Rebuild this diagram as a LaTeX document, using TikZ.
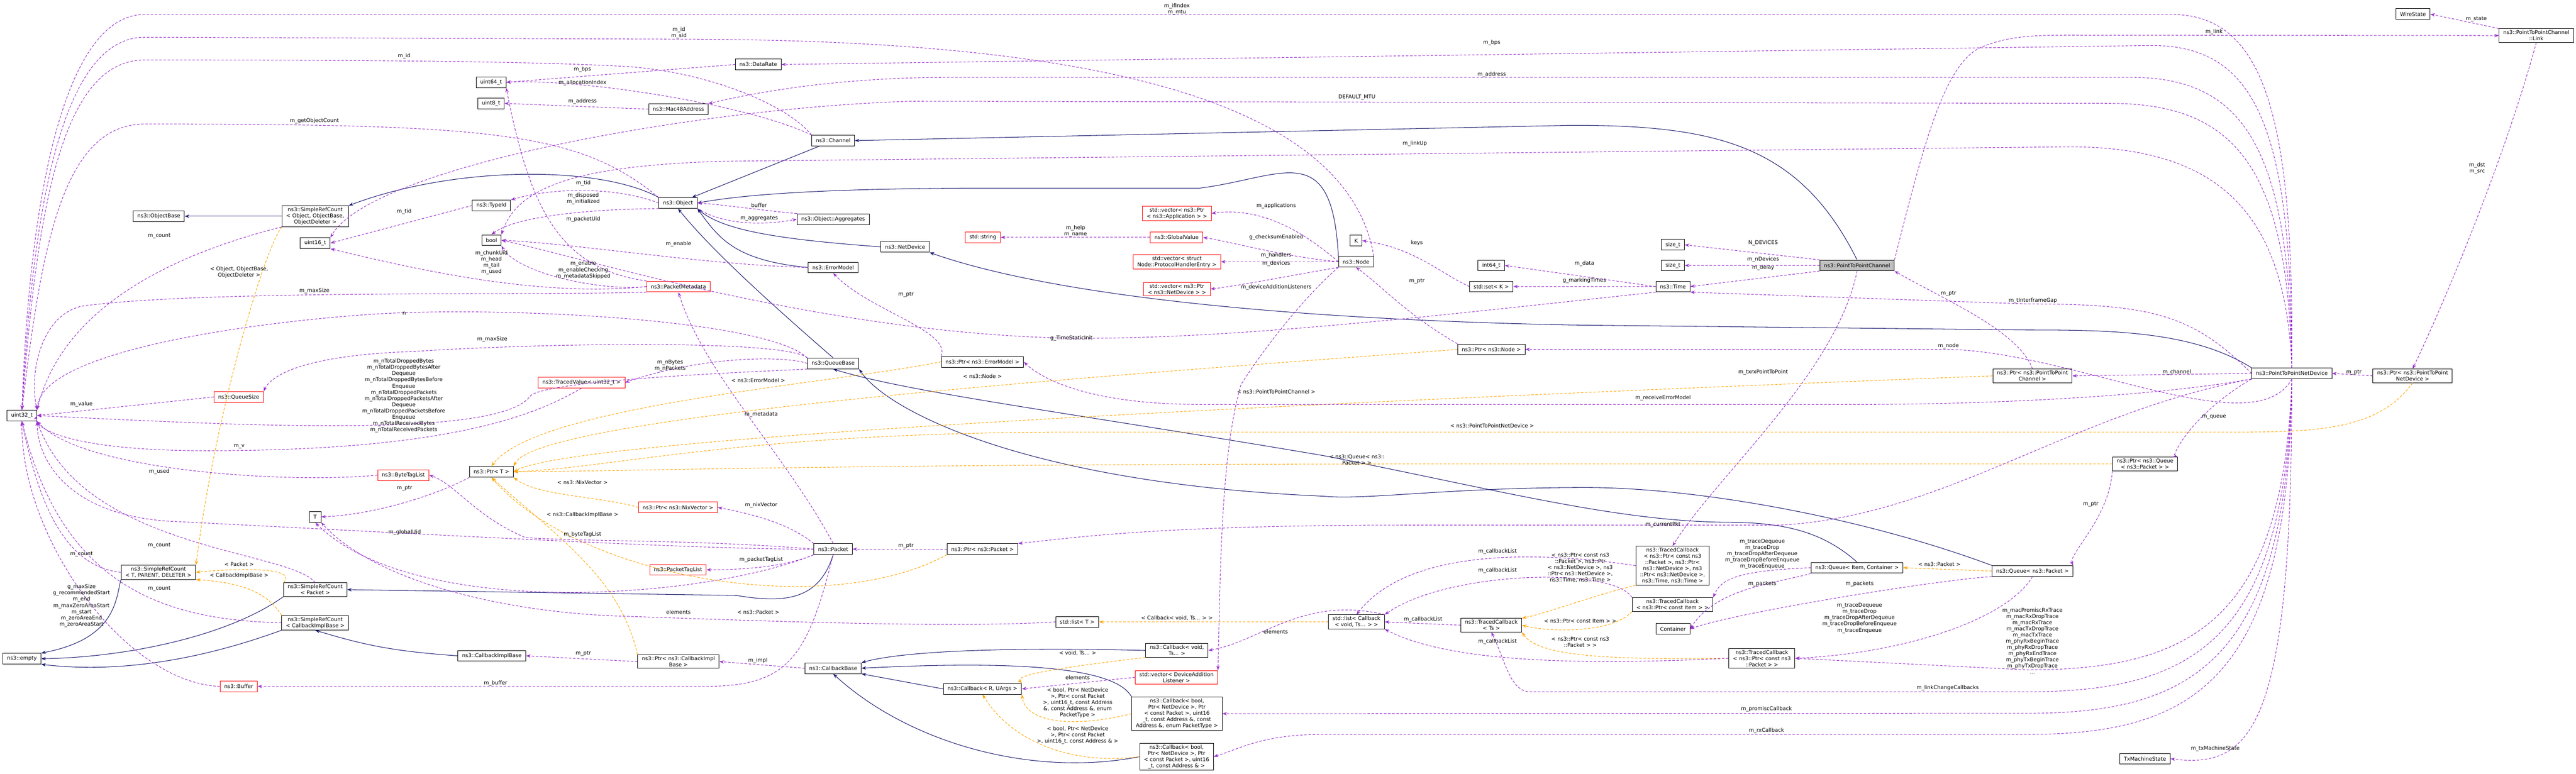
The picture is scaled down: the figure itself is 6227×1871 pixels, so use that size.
\documentclass[tikz,border=0pt]{standalone}
\usepackage{fontspec}
\setmainfont{DejaVu Sans}
\usetikzlibrary{arrows.meta}
\definecolor{usep}{HTML}{9A32CD}
\definecolor{navyc}{HTML}{191970}
\definecolor{orng}{HTML}{FFA500}
\begin{document}
\begin{tikzpicture}[x=1pt,y=-1pt,
  box/.style={draw=black,line width=1.2pt,fill=white,font=\fontsize{12.7}{15}\selectfont,align=center,inner xsep=10pt,inner ysep=4pt,minimum height=26pt},
  rbox/.style={box,draw=red},
  gbox/.style={box,fill=black!25},
  use/.style={draw=usep,line width=1.3pt,dash pattern=on 6pt off 4pt,-{Stealth[length=11pt,width=8pt]}},
  inh/.style={draw=navyc,line width=1.3pt,-{Stealth[length=11pt,width=8pt]}},
  tmpl/.style={draw=orng,line width=1.3pt,dash pattern=on 6pt off 4pt,-{Stealth[length=11pt,width=8pt]}},
  lab/.style={font=\fontsize{12.7}{15}\selectfont,align=center,inner sep=0pt}]
\path[use as bounding box,fill=white] (0,0) rectangle (6227,1871);
% nodes
\node[box] (u64) at (1187,199) {uint64\_t};
\node[box] (u8) at (1187,250) {uint8\_t};
\node[box] (mac) at (1640,264) {ns3::Mac48Address};
\node[box] (obase) at (384,523) {ns3::ObjectBase};
\node[box] (srcObj) at (762,523) {ns3::SimpleRefCount\\< Object, ObjectBase,\\ObjectDeleter >};
\node[box] (u16) at (762,588) {uint16\_t};
\node[box] (typeid) at (1188,497) {ns3::TypeId};
\node[box] (bool) at (1188,581) {bool};
\node[rbox] (pmeta) at (1640,693) {ns3::PacketMetadata};
\node[rbox] (tvu32) at (1406,925) {ns3::TracedValue< uint32\_t >};
\node[rbox] (qsize) at (577,960) {ns3::QueueSize};
\node[box] (u32) at (53,1005) {uint32\_t};
\node[rbox] (btl) at (975,1149) {ns3::ByteTagList};
\node[box] (ptrT) at (1188,1141) {ns3::Ptr< T >};
\node[box] (T) at (762,1250) {T};
\node[box] (srcT) at (383,1384) {ns3::SimpleRefCount\\< T, PARENT, DELETER >};
\node[box] (srcP) at (762,1426) {ns3::SimpleRefCount\\< Packet >};
\node[box] (srcC) at (762,1506) {ns3::SimpleRefCount\\< CallbackImplBase >};
\node[box] (empty) at (53,1593) {ns3::empty};
\node[box] (cib) at (1189,1586) {ns3::CallbackImplBase};
\node[rbox] (buffer) at (577,1660) {ns3::Buffer};
\node[rbox] (pnix) at (1639,1227) {ns3::Ptr< ns3::NixVector >};
\node[rbox] (ptl) at (1639,1378) {ns3::PacketTagList};
\node[box] (pcib) at (1640,1600) {ns3::Ptr< ns3::CallbackImpl\\Base >};
\node[box] (datarate) at (1833,156) {ns3::DataRate};
\node[box] (channel) at (2014,340) {ns3::Channel};
\node[box] (object) at (1639,491) {ns3::Object};
\node[box] (aggr) at (2014,530) {ns3::Object::Aggregates};
\node[box] (netdev) at (2188,597) {ns3::NetDevice};
\node[box] (errm) at (2014,647) {ns3::ErrorModel};
\node[rbox] (str) at (2376,574) {std::string};
\node[rbox] (gval) at (2844,574) {ns3::GlobalValue};
\node[rbox] (vapp) at (2845,516) {std::vector< ns3::Ptr\\< ns3::Application > >};
\node[rbox] (vph) at (2845,633) {std::vector< struct\\Node::ProtocolHandlerEntry >};
\node[rbox] (vnd) at (2845,699) {std::vector< ns3::Ptr\\< ns3::NetDevice > >};
\node[box] (qbase) at (2014,879) {ns3::QueueBase};
\node[box] (perr) at (2375,875) {ns3::Ptr< ns3::ErrorModel >};
\node[box] (packet) at (2014,1328) {ns3::Packet};
\node[box] (ppkt) at (2375,1328) {ns3::Ptr< ns3::Packet >};
\node[box] (listT) at (2604,1504) {std::list< T >};
\node[box] (cbvoid) at (2845,1573) {ns3::Callback< void,\\Ts... >};
\node[box] (cbase) at (2014,1616) {ns3::CallbackBase};
\node[rbox] (vdal) at (2844,1638) {std::vector< DeviceAddition\\Listener >};
\node[box] (cbR) at (2375,1666) {ns3::Callback< R, UArgs >};
\node[box] (cbPT) at (2845,1726) {ns3::Callback< bool,\\Ptr< NetDevice >, Ptr\\< const Packet >, uint16\\\_t, const Address \&, const\\Address \&, enum PacketType >};
\node[box] (cbA) at (2844,1830) {ns3::Callback< bool,\\Ptr< NetDevice >, Ptr\\< const Packet >, uint16\\\_t, const Address \& >};
\node[box] (K) at (3278,582) {K};
\node[box] (ndn) at (3278,633) {ns3::Node};
\node[box] (sz1) at (4044,592) {size\_t};
\node[box] (sz2) at (4044,642) {size\_t};
\node[box] (i64) at (3605,642) {int64\_t};
\node[box] (setK) at (3605,693) {std::set< K >};
\node[box] (time) at (4044,693) {ns3::Time};
\node[gbox] (p2pch) at (4489,642) {ns3::PointToPointChannel};
\node[box] (pnode) at (3605,845) {ns3::Ptr< ns3::Node >};
\node[box] (listCb) at (3279,1504) {std::list< Callback\\< void, Ts... > >};
\node[box] (tcTs) at (3605,1512) {ns3::TracedCallback\\< Ts >};
\node[box] (tc6) at (4043,1368) {ns3::TracedCallback\\< ns3::Ptr< const ns3\\::Packet >, ns3::Ptr<\\ns3::NetDevice >, ns3\\::Ptr< ns3::NetDevice >,\\ns3::Time, ns3::Time >};
\node[box] (tcItem) at (4043,1462) {ns3::TracedCallback\\< ns3::Ptr< const Item > >};
\node[box] (container) at (4044,1521) {Container};
\node[box] (queueIC) at (4489,1373) {ns3::Queue< Item, Container >};
\node[box] (tcPkt) at (4259,1592) {ns3::TracedCallback\\< ns3::Ptr< const ns3\\::Packet > >};
\node[box] (wire) at (5833,34) {WireState};
\node[box] (link) at (6131,86) {ns3::PointToPointChannel\\::Link};
\node[box] (nd) at (5540,903) {ns3::PointToPointNetDevice};
\node[box] (pch) at (4913,909) {ns3::Ptr< ns3::PointToPoint\\Channel >};
\node[box] (pq) at (5185,1122) {ns3::Ptr< ns3::Queue\\< ns3::Packet > >};
\node[box] (pnd) at (5832,909) {ns3::Ptr< ns3::PointToPoint\\NetDevice >};
\node[box] (qpkt) at (4913,1381) {ns3::Queue< ns3::Packet >};
\node[box] (txm) at (5185,1835) {TxMachineState};
% inheritance
\draw[inh] (srcObj) -- (obase);
\draw[inh] (object.north west) .. controls (1450,400) and (1100,400) .. (srcObj.north east);
\draw[inh] (channel) -- (object);
\draw[inh] (netdev.west) .. controls (1900,580) and (1750,560) .. (object.south east);
\draw[inh] (errm.west) .. controls (1780,630) and (1740,580) .. (object.south east);
\draw[inh] (qbase.north) .. controls (1800,680) and (1700,580) .. (object.south);
\draw[inh] (ndn.north west) .. controls (3220,330) and (3100,430) .. (2900,455) -- (2400,455) .. controls (2000,455) and (1800,470) .. (object.east);
\draw[inh] (p2pch.north) .. controls (4350,350) and (4150,303) .. (3800,303) -- (channel.east);
\draw[inh] (nd.north west) .. controls (5300,800) and (5100,798) .. (4900,798) -- (3800,786) .. controls (3000,770) and (2500,700) .. (netdev.south east);
\draw[inh] (queueIC.north) .. controls (4400,1280) and (4300,1263) .. (4169,1263) .. controls (3900,1260) and (3600,1180) .. (3200,1102) .. controls (2600,1000) and (2200,950) .. (qbase.south);
\draw[inh] (qpkt.north west) .. controls (4500,1250) and (4100,1179) .. (3833,1179) .. controls (3500,1179) and (3300,1210) .. (3200,1200) .. controls (2500,1170) and (2150,1000) .. (qbase.south east);
\draw[inh] (packet.south) .. controls (1980,1450) and (1900,1460) .. (1780,1440) -- (srcP.east);
\draw[inh] (cib.west) .. controls (950,1575) and (880,1560) .. (srcC.south);
\draw[inh] (srcT.south west) .. controls (280,1450) and (280,1545) .. (empty.north east);
\draw[inh] (srcP.south west) .. controls (550,1540) and (300,1590) .. (empty.east);
\draw[inh] (srcC.south west) .. controls (500,1590) and (300,1630) .. (empty.south east);
\draw[inh] (cbvoid.west) .. controls (2500,1566) and (2200,1570) .. (cbase.north east);
\draw[inh] (cbR.west) -- (cbase.south east);
\draw[inh] (cbPT.north west) .. controls (2700,1620) and (2500,1595) .. (cbase.east);
\draw[inh] (cbA.west) .. controls (2500,1880) and (2200,1800) .. (cbase.south);
% templates
\draw[tmpl] (srcObj.south west) .. controls (640,600) and (520,1000) .. (srcT.north east);
\draw[tmpl] (srcP.north west) .. controls (720,1375) and (600,1372) .. (srcT.east);
\draw[tmpl] (srcC.north west) .. controls (650,1440) and (600,1410) .. (srcT.south east);
\draw[tmpl] (pnix.west) .. controls (1450,1200) and (1300,1200) .. (ptrT.south east);
\draw[tmpl] (pcib.north west) .. controls (1500,1400) and (1350,1300) .. (ptrT.south);
\draw[tmpl] (perr.west) .. controls (2000,930) and (1300,980) .. (ptrT.north);
\draw[tmpl] (pnode.west) .. controls (2800,900) and (1300,1000) .. (ptrT.north east);
\draw[tmpl] (pch.west) .. controls (3500,960) and (1400,1050) .. (ptrT.east);
\draw[tmpl] (pnd.south) .. controls (5750,1040) and (5600,1045) .. (5400,1045) -- (2600,1045) .. controls (1800,1045) and (1500,1130) .. (ptrT.east);
\draw[tmpl] (pq.west) -- (3500,1122) .. controls (2000,1122) and (1500,1140) .. (ptrT.east);
\draw[tmpl] (ppkt.south west) .. controls (2000,1500) and (1400,1400) .. (ptrT.south);
\draw[tmpl] (qpkt.west) -- (queueIC.east);
\draw[tmpl] (listCb.west) -- (listT.east);
\draw[tmpl] (cbvoid.south west) .. controls (2600,1610) and (2450,1630) .. (cbR.north east);
\draw[tmpl] (cbPT.west) .. controls (2600,1760) and (2480,1750) .. (cbR.south east);
\draw[tmpl] (cbA.west) .. controls (2600,1850) and (2450,1800) .. (cbR.south);
\draw[tmpl] (tc6.south west) .. controls (3850,1440) and (3750,1480) .. (tcTs.north east);
\draw[tmpl] (tcItem.south west) .. controls (3900,1530) and (3750,1530) .. (tcTs.east);
\draw[tmpl] (tcPkt.west) .. controls (3900,1595) and (3720,1590) .. (tcTs.south east);
% usage from P2PNetDevice
\draw[use] (nd.north) .. controls (5545,300) and (5480,35) .. (5250,35) -- (350,35) .. controls (150,35) and (70,500) .. (u32.north);
\draw[use] (nd.north) .. controls (5540,300) and (5450,110) .. (5200,110) -- (datarate.east);
\draw[use] (nd.north) .. controls (5535,350) and (5420,187) .. (5150,187) -- (2300,187) .. controls (2000,187) and (1800,230) .. (mac.north east);
\draw[use] (nd.north) .. controls (5530,400) and (5400,250) .. (5100,250) -- (2200,245) .. controls (1700,260) and (900,400) .. (u16.north east);
\draw[use] (nd.north) .. controls (5525,500) and (5350,355) .. (5000,355) -- (1750,390) .. controls (1400,400) and (1250,450) .. (bool.north east);
\draw[use] (nd.west) .. controls (5300,760) and (5200,735) .. (4900,735) -- (time.south east);
\draw[use] (nd.west) -- (pch.east);
\draw[use] (nd.south west) .. controls (5300,1000) and (5250,1100) .. (pq.north east);
\draw[use] (nd.south) .. controls (5450,1080) and (5000,845) .. (4700,845) -- (pnode.east);
\draw[use] (nd.south west) .. controls (5200,960) and (4800,978) .. (4500,978) -- (2900,978) .. controls (2600,978) and (2500,900) .. (perr.east);
\draw[use] (nd.south west) .. controls (5000,1000) and (4700,1250) .. (4300,1270) -- (3400,1270) .. controls (2800,1270) and (2600,1300) .. (ppkt.north east);
\draw[use] (nd.south) .. controls (5520,1500) and (5300,1620) .. (4900,1620) -- (tcPkt.east);
\draw[use] (nd.south) .. controls (5525,1550) and (5300,1673) .. (4900,1673) -- (3700,1673) .. controls (3650,1673) and (3640,1600) .. (tcTs.south);
\draw[use] (nd.south) .. controls (5530,1600) and (5300,1725) .. (4900,1725) -- (cbPT.east);
\draw[use] (nd.south) .. controls (5535,1650) and (5300,1776) .. (4900,1776) -- (3200,1776) .. controls (3050,1776) and (3000,1810) .. (cbA.east);
\draw[use] (nd.south) .. controls (5540,1750) and (5450,1860) .. (txm.east);
\draw[use] (pnd.west) -- (nd.east);
\draw[use] (link.north west) -- (wire.east);
\draw[use] (link.south) .. controls (6050,400) and (5900,750) .. (pnd.north);
\draw[use] (pch.north) .. controls (4880,800) and (4700,725) .. (p2pch.south east);
\draw[use] (pq.south west) .. controls (5100,1250) and (5000,1340) .. (qpkt.north east);
% channel
\draw[use] (p2pch.north east) .. controls (4650,350) and (4700,150) .. (4792,113) .. controls (4850,90) and (4900,85) .. (5000,85) -- (link.west);
\draw[use] (p2pch.south) .. controls (4440,900) and (4150,1150) .. (tc6.north);
\draw[use] (p2pch.north west) -- (sz1.east);
\draw[use] (p2pch.west) -- (sz2.east);
\draw[use] (p2pch.south west) -- (time.east);
% node
\draw[use] (ndn.north east) .. controls (3250,200) and (2500,100) .. (1700,95) -- (350,90) .. controls (150,90) and (80,500) .. (u32.north);
\draw[use] (ndn.west) .. controls (3150,560) and (3050,500) .. (vapp.east);
\draw[use] (ndn.west) .. controls (3100,620) and (3000,590) .. (gval.east);
\draw[use] (ndn.west) -- (vph.east);
\draw[use] (ndn.south west) .. controls (3100,670) and (3000,690) .. (vnd.east);
\draw[use] (ndn.south west) .. controls (3150,720) and (3050,850) .. (3000,930) .. controls (2950,1100) and (2950,1400) .. (vdal.north east);
\draw[use] (pnode.north west) .. controls (3400,760) and (3350,700) .. (ndn.south);
\draw[use] (time.west) -- (i64.east);
\draw[use] (time.west) -- (setK.east);
\draw[use] (setK.west) .. controls (3480,660) and (3420,600) .. (K.east);
\draw[use] (time.south west) .. controls (3500,760) and (3000,820) .. (2600,818) .. controls (2000,810) and (1400,620) .. (bool.east);
\draw[use] (gval.west) -- (str.east);
% object area
\draw[use] (channel.north west) .. controls (1900,250) and (1700,170) .. (1500,160) .. controls (1300,150) and (1000,145) .. (350,145) .. controls (150,145) and (90,500) .. (u32.north);
\draw[use] (channel.north west) .. controls (1800,250) and (1400,190) .. (u64.east);
\draw[use] (datarate.west) -- (u64.east);
\draw[use] (mac.west) -- (u8.east);
\draw[use] (object.north west) .. controls (1400,320) and (1200,300) .. (350,300) .. controls (150,300) and (100,600) .. (u32.north);
\draw[use] (object.west) .. controls (1500,455) and (1350,450) .. (typeid.north east);
\draw[use] (object.south west) .. controls (1450,505) and (1250,520) .. (bool.north);
\draw[use] (typeid.west) -- (u16.east);
\draw[use] (aggr.north west) .. controls (1850,510) and (1750,495) .. (object.east);
\draw[use] (object.south east) .. controls (1750,545) and (1850,545) .. (aggr.west);
\draw[use] (srcObj.south west) .. controls (400,620) and (150,750) .. (u32.north east);
\draw[use] (errm.west) .. controls (1700,640) and (1400,590) .. (bool.east);
\draw[use] (pmeta.west) .. controls (1450,705) and (1250,660) .. (bool.south east);
\draw[use] (pmeta.west) .. controls (1300,720) and (1000,650) .. (u16.south east);
\draw[use] (pmeta.south west) .. controls (1300,715) and (500,700) .. (200,740) .. controls (100,760) and (70,900) .. (u32.north east);
\draw[use] (pmeta.north west) .. controls (1350,650) and (1280,500) .. (u64.south east);
\draw[use] (qbase.north west) .. controls (1900,820) and (1300,830) .. (1000,850) .. controls (700,860) and (650,920) .. (qsize.north east);
\draw[use] (qbase.west) .. controls (1900,860) and (1700,860) .. (tvu32.east);
\draw[use] (qbase.south west) .. controls (1800,900) and (1300,920) .. (1280,960) .. controls (1200,1060) and (600,1030) .. (u32.east);
\draw[use] (qbase.north west) .. controls (1850,770) and (1200,740) .. (900,760) .. controls (600,780) and (100,850) .. (u32.north east);
\draw[use] (tvu32.south) .. controls (1300,1000) and (1100,1090) .. (500,1090) .. controls (150,1090) and (80,1030) .. (u32.east);
\draw[use] (qsize.west) -- (u32.east);
\draw[use] (btl.west) .. controls (700,1170) and (200,1140) .. (u32.south east);
\draw[use] (ptrT.south west) .. controls (1050,1200) and (900,1245) .. (T.east);
\draw[use] (srcT.west) .. controls (150,1370) and (90,1200) .. (u32.south);
\draw[use] (srcP.north) .. controls (700,1330) and (200,1330) .. (u32.south east);
\draw[use] (srcC.west) .. controls (400,1500) and (150,1420) .. (u32.south);
\draw[use] (buffer.west) .. controls (300,1650) and (50,1300) .. (u32.south);
\draw[use] (pcib.west) -- (cib.east);
\draw[use] (cbase.west) -- (pcib.east);
\draw[use] (perr.north west) .. controls (2300,800) and (2100,750) .. (errm.south);
\draw[use] (ppkt.west) -- (packet.east);
\draw[use] (packet.north west) .. controls (1900,1260) and (1800,1240) .. (pnix.east);
\draw[use] (packet.south west) .. controls (1900,1370) and (1800,1378) .. (ptl.east);
\draw[use] (packet.north) .. controls (1900,1100) and (1700,900) .. (pmeta.south);
\draw[use] (packet.west) .. controls (1700,1305) and (1400,1310) .. (1270,1300) .. controls (1150,1250) and (1100,1170) .. (btl.east);
\draw[use] (packet.west) .. controls (1700,1330) and (1000,1290) .. (400,1260) .. controls (150,1240) and (90,1100) .. (u32.south east);
\draw[use] (packet.south) .. controls (1950,1600) and (1900,1660) .. (1700,1660) -- (buffer.east);
\draw[use] (packet.south west) .. controls (1700,1450) and (1000,1500) .. (T.south);
\draw[use] (listT.west) .. controls (2300,1520) and (1800,1500) .. (1500,1490) .. controls (1200,1480) and (900,1400) .. (T.south east);
\draw[use] (listCb.north east) .. controls (3150,1440) and (3050,1550) .. (cbvoid.east);
\draw[use] (vdal.west) -- (cbR.east);
% traced callbacks
\draw[use] (tc6.west) .. controls (3700,1330) and (3400,1330) .. (listCb.north);
\draw[use] (tcItem.north west) .. controls (3900,1370) and (3500,1380) .. (listCb.north east);
\draw[use] (tcTs.west) -- (listCb.east);
\draw[use] (tcPkt.west) .. controls (3800,1610) and (3500,1600) .. (listCb.south east);
\draw[use] (queueIC.west) .. controls (4200,1380) and (4160,1400) .. (tcItem.north east);
\draw[use] (queueIC.south west) .. controls (4300,1410) and (4150,1420) .. (container.east);
\draw[use] (qpkt.south west) .. controls (4700,1400) and (4200,1480) .. (container.east);
\draw[use] (qpkt.south) .. controls (4850,1500) and (4600,1580) .. (tcPkt.east);
% labels
\node[lab] at (2845,22) {m\_ifIndex\\m\_mtu};
\node[lab] at (5352,77) {m\_link};
\node[lab] at (3606,103) {m\_bps};
\node[lab] at (3606,180) {m\_address};
\node[lab] at (3280,235) {DEFAULT\_MTU};
\node[lab] at (3420,347) {m\_linkUp};
\node[lab] at (4914,727) {m\_tInterframeGap};
\node[lab] at (5262,900) {m\_channel};
\node[lab] at (5352,1009) {m\_queue};
\node[lab] at (5054,1220) {m\_ptr};
\node[lab] at (5690,900) {m\_ptr};
\node[lab] at (5988,407) {m\_dst\\m\_src};
\node[lab] at (5986,46) {m\_state};
\node[lab] at (4710,837) {m\_node};
\node[lab] at (4710,710) {m\_ptr};
\node[lab] at (4913,1550) {m\_macPromiscRxTrace\\m\_macRxDropTrace\\m\_macRxTrace\\m\_macTxDropTrace\\m\_macTxTrace\\m\_phyRxBeginTrace\\m\_phyRxDropTrace\\m\_phyRxEndTrace\\m\_phyTxBeginTrace\\m\_phyTxDropTrace\\...};
\node[lab] at (4708,1664) {m\_linkChangeCallbacks};
\node[lab] at (4270,1715) {m\_promiscCallback};
\node[lab] at (4270,1767) {m\_rxCallback};
\node[lab] at (5355,1810) {m\_txMachineState};
\node[lab] at (4020,1269) {m\_currentPkt};
\node[lab] at (4020,963) {m\_receiveErrorModel};
\node[lab] at (4262,900) {m\_txrxPointToPoint};
\node[lab] at (4262,588) {N\_DEVICES};
\node[lab] at (4262,628) {m\_nDevices};
\node[lab] at (4262,648) {m\_delay};
\node[lab] at (3830,638) {m\_data};
\node[lab] at (3830,678) {g\_markingTimes};
\node[lab] at (3425,588) {keys};
\node[lab] at (3425,680) {m\_ptr};
\node[lab] at (2590,818) {g\_TimeStaticInit};
\node[lab] at (3085,498) {m\_applications};
\node[lab] at (3085,574) {g\_checksumEnabled};
\node[lab] at (3085,618) {m\_handlers};
\node[lab] at (3085,638) {m\_devices};
\node[lab] at (3085,695) {m\_deviceAdditionListeners};
\node[lab] at (2600,559) {m\_help\\m\_name};
\node[lab] at (1641,80) {m\_id\\m\_sid};
\node[lab] at (977,136) {m\_id};
\node[lab] at (1408,168) {m\_bps};
\node[lab] at (1408,200) {m\_allocationIndex};
\node[lab] at (1408,245) {m\_address};
\node[lab] at (760,293) {m\_getObjectCount};
\node[lab] at (1410,443) {m\_tid};
\node[lab] at (1410,480) {m\_disposed\\m\_initialized};
\node[lab] at (1410,530) {m\_packetUid};
\node[lab] at (977,512) {m\_tid};
\node[lab] at (385,570) {m\_count};
\node[lab] at (1835,496) {buffer};
\node[lab] at (1835,528) {m\_aggregates};
\node[lab] at (1640,590) {m\_enable};
\node[lab] at (1188,635) {m\_chunkUid\\m\_head\\m\_tail\\m\_used};
\node[lab] at (1410,653) {m\_enable\\m\_enableChecking\\m\_metadataSkipped};
\node[lab] at (578,658) {< Object, ObjectBase,\\ObjectDeleter >};
\node[lab] at (760,704) {m\_maxSize};
\node[lab] at (977,758) {n};
\node[lab] at (1190,820) {m\_maxSize};
\node[lab] at (976,957) {m\_nTotalDroppedBytes\\m\_nTotalDroppedBytesAfter\\Dequeue\\m\_nTotalDroppedBytesBefore\\Enqueue\\m\_nTotalDroppedPackets\\m\_nTotalDroppedPacketsAfter\\Dequeue\\m\_nTotalDroppedPacketsBefore\\Enqueue\\m\_nTotalReceivedBytes\\m\_nTotalReceivedPackets};
\node[lab] at (1620,884) {m\_nBytes\\m\_nPackets};
\node[lab] at (1833,920) {< ns3::ErrorModel >};
\node[lab] at (2375,910) {< ns3::Node >};
\node[lab] at (3085,947) {< ns3::PointToPointChannel >};
\node[lab] at (3607,1030) {< ns3::PointToPointNetDevice >};
\node[lab] at (3280,1112) {< ns3::Queue< ns3::\\Packet > >};
\node[lab] at (2190,712) {m\_ptr};
\node[lab] at (1840,1002) {m\_metadata};
\node[lab] at (197,978) {m\_value};
\node[lab] at (578,1080) {m\_v};
\node[lab] at (385,1141) {m\_used};
\node[lab] at (978,1181) {m\_ptr};
\node[lab] at (1408,1167) {< ns3::NixVector >};
\node[lab] at (1840,1222) {m\_nixVector};
\node[lab] at (1408,1245) {< ns3::CallbackImplBase >};
\node[lab] at (978,1288) {m\_globalUid};
\node[lab] at (1408,1292) {m\_byteTagList};
\node[lab] at (2190,1320) {m\_ptr};
\node[lab] at (385,1319) {m\_count};
\node[lab] at (197,1340) {m\_count};
\node[lab] at (1840,1353) {m\_packetTagList};
\node[lab] at (578,1364) {< Packet >};
\node[lab] at (578,1392) {< CallbackImplBase >};
\node[lab] at (385,1424) {m\_count};
\node[lab] at (197,1465) {g\_maxSize\\g\_recommendedStart\\m\_end\\m\_maxZeroAreaStart\\m\_start\\m\_zeroAreaEnd\\m\_zeroAreaStart};
\node[lab] at (1640,1480) {elements};
\node[lab] at (1833,1481) {< ns3::Packet >};
\node[lab] at (2845,1495) {< Callback< void, Ts... > >};
\node[lab] at (3084,1528) {elements};
\node[lab] at (2605,1580) {< void, Ts... >};
\node[lab] at (1410,1580) {m\_ptr};
\node[lab] at (1832,1598) {m\_impl};
\node[lab] at (2605,1638) {elements};
\node[lab] at (2605,1700) {< bool, Ptr< NetDevice\\>, Ptr< const Packet\\>, uint16\_t, const Address\\\&, const Address \&, enum\\PacketType >};
\node[lab] at (2605,1778) {< bool, Ptr< NetDevice\\>, Ptr< const Packet\\>, uint16\_t, const Address \& >};
\node[lab] at (1198,1652) {m\_buffer};
\node[lab] at (3620,1333) {m\_callbackList};
\node[lab] at (3620,1380) {m\_callbackList};
\node[lab] at (3440,1498) {m\_callbackList};
\node[lab] at (3620,1551) {m\_callbackList};
\node[lab] at (3820,1373) {< ns3::Ptr< const ns3\\::Packet >, ns3::Ptr\\< ns3::NetDevice >, ns3\\::Ptr< ns3::NetDevice >,\\ns3::Time, ns3::Time >};
\node[lab] at (3820,1502) {< ns3::Ptr< const Item > >};
\node[lab] at (3820,1553) {< ns3::Ptr< const ns3\\::Packet > >};
\node[lab] at (4260,1340) {m\_traceDequeue\\m\_traceDrop\\m\_traceDropAfterDequeue\\m\_traceDropBeforeEnqueue\\m\_traceEnqueue};
\node[lab] at (4260,1412) {m\_packets};
\node[lab] at (4495,1412) {m\_packets};
\node[lab] at (4495,1495) {m\_traceDequeue\\m\_traceDrop\\m\_traceDropAfterDequeue\\m\_traceDropBeforeEnqueue\\m\_traceEnqueue};
\node[lab] at (4688,1364) {< ns3::Packet >};
\end{tikzpicture}
\end{document}
